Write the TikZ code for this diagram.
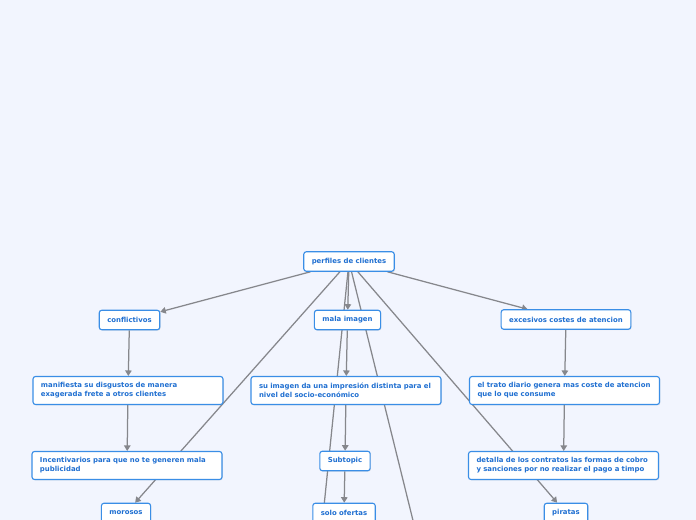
\documentclass[tikz,border=0pt]{standalone}
\usepackage{fontspec}
\setmainfont{DejaVu Sans}
\usetikzlibrary{arrows.meta,shadows}
\definecolor{bgc}{HTML}{F2F5FE}
\definecolor{bordc}{HTML}{3A8EE6}
\definecolor{txtc}{HTML}{1F6FD1}
\definecolor{linec}{HTML}{86878C}
\pgfdeclarelayer{bg}
\pgfdeclarelayer{edges}
\pgfsetlayers{bg,edges,main}
\tikzset{
  topic/.style={draw=bordc, line width=1.1bp, fill=white, rounded corners=2.5bp,
    text=txtc, font=\fontsize{6.95}{9}\selectfont\bfseries,
    inner xsep=8bp, inner ysep=0bp, minimum height=19.5bp,
    drop shadow={opacity=0.18, shadow xshift=0.8bp, shadow yshift=-0.8bp}},
  wide/.style={topic, text width=174bp, align=left, minimum height=28bp},
  conn/.style={draw=linec, line width=1.25bp, -{Triangle[width=6.5bp,length=5.5bp]}},
  connplain/.style={draw=linec, line width=1.25bp}
}
\begin{document}
\begin{tikzpicture}[x=1bp,y=-1bp]
\begin{pgfonlayer}{bg}
\fill[bgc] (0,0) rectangle (696,520);
\end{pgfonlayer}
\useasboundingbox (0,0) rectangle (696,520);
\clip (0,0) rectangle (696,520);
\node[topic] (root) at (349,261.5) {perfiles de clientes};
\node[topic] (confl) at (129.5,320) {conflictivos};
\node[topic] (mala) at (347.5,320) {mala imagen};
\node[topic] (exc) at (566,319.5) {excesivos costes de atencion};
\node[wide] (mani) at (128,390.5) {manifiesta su disgustos de manera\\exagerada frete a otros clientes};
\node[wide] (suim) at (346,390.5) {su imagen da una impresión distinta para el\\nivel del socio-económico};
\node[wide] (trato) at (564.5,390.5) {el trato diario genera mas coste de atencion\\que lo que consume};
\node[wide] (incent) at (127,465.5) {Incentivarios para que no te generen mala\\publicidad};
\node[topic] (subt) at (345,461) {Subtopic};
\node[wide] (detalla) at (563.5,465.5) {detalla de los contratos las formas de cobro\\y sanciones por no realizar el pago a timpo};
\node[topic] (morosos) at (126,513) {morosos};
\node[topic] (solo) at (344,513) {solo ofertas};
\node[topic] (piratas) at (566,513) {piratas};
\coordinate (offA) at (318,565);
\coordinate (offB) at (424,565);
\begin{pgfonlayer}{edges}
\draw[conn] (root) -- (confl);
\draw[conn] (root) -- (mala);
\draw[conn] (root) -- (exc);
\draw[conn] (root) -- (morosos);
\draw[conn] (root) -- (piratas);
\draw[connplain] (root) -- (offA);
\draw[connplain] (root) -- (offB);
\draw[conn] (confl) -- (mani);
\draw[conn] (mala) -- (suim);
\draw[conn] (exc) -- (trato);
\draw[conn] (mani) -- (incent);
\draw[conn] (suim) -- (subt);
\draw[conn] (trato) -- (detalla);
\draw[conn] (subt) -- (solo);
\end{pgfonlayer}
\end{tikzpicture}
\end{document}
